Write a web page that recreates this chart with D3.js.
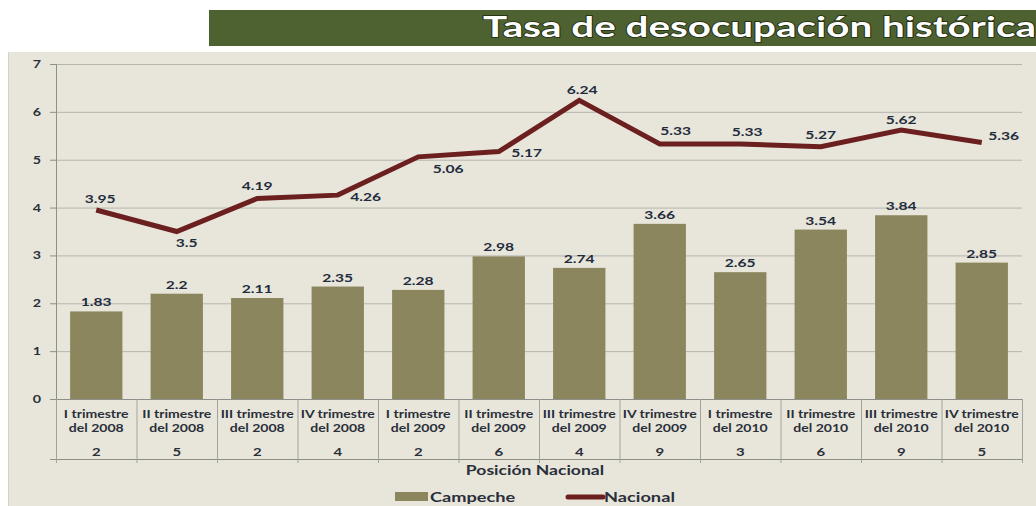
<!DOCTYPE html>
<html>
<head>
<meta charset="utf-8">
<script src="https://cdn.jsdelivr.net/npm/d3@7"></script>
<style>
  body { margin: 0; background: #ffffff; }
  text { font-family: Lato, "Open Sans", sans-serif; font-weight: 700; }
</style>
</head>
<body>
<div id="chart"></div>
<script>
const quarters = ["I trimestre|del 2008", "II trimestre|del 2008", "III trimestre|del 2008", "IV trimestre|del 2008",
    "I trimestre|del 2009", "II trimestre|del 2009", "III trimestre|del 2009", "IV trimestre|del 2009",
    "I trimestre|del 2010", "II trimestre|del 2010", "III trimestre|del 2010", "IV trimestre|del 2010"]
const campeche = [1.83, 2.2, 2.11, 2.35, 2.28, 2.98, 2.74, 3.66, 2.65, 3.54, 3.84, 2.85]
const nacional = [3.95, 3.5, 4.19, 4.26, 5.06, 5.17, 6.24, 5.33, 5.33, 5.27, 5.62, 5.36]
const posicion = [2, 5, 2, 4, 2, 6, 4, 9, 3, 6, 9, 5]
const yTicks = [0, 1, 2, 3, 4, 5, 6, 7]
// where excel left each line label, relative to the point
const lineLabelShift = [[4, -11], [10, 11], [0, -13], [28, 1], [30, 12], [28, 1],
    [3, -11], [16, -13], [7, -12], [0, -12], [0, -11], [22, -7]]

const W = 1036, H = 506
const plotLeft = 56, plotRight = 1022, plotTop = 64, plotBottom = 399
const stretch = 1.3 // the source picture is stretched sideways

// widen text horizontally to look like the stretched source
function widen(sel, k) {
    sel.each(function () {
        let len = this.getComputedTextLength()
        d3.select(this).attr("textLength", len * k).attr("lengthAdjust", "spacingAndGlyphs")
    })
}

const svg = d3.select("#chart").append("svg")
    .attr("width", W)
    .attr("height", H)

// chart area background
svg.append("rect")
    .attr("x", 8).attr("y", 52).attr("width", W - 8).attr("height", H - 52)
    .attr("fill", "#e8e6da")
svg.append("line") // thin light frame on the left
    .attr("x1", 8.5).attr("x2", 8.5).attr("y1", 52).attr("y2", H)
    .attr("stroke", "#d4d2c6")

// title band
svg.append("rect")
    .attr("x", 209).attr("y", 10).attr("width", W - 209).attr("height", 36)
    .attr("fill", "#4e6130")
svg.append("text")
    .attr("x", 483).attr("y", 37)
    .attr("textLength", 553)
    .attr("lengthAdjust", "spacingAndGlyphs")
    .attr("font-size", 29)
    .attr("fill", "#ffffff")
    .style("paint-order", "stroke")
    .attr("stroke", "#1e2a10")
    .attr("stroke-width", 1.5)
    .text("Tasa de desocupación  histórica")

let x = d3.scaleBand()
    .domain(quarters)
    .range([plotLeft, plotRight])
    .paddingInner(0.35)
    .paddingOuter(0.175)

let xEdge = d3.scaleBand() // full-width slots, for separators
    .domain(quarters)
    .range([plotLeft, plotRight])

let y = d3.scaleLinear()
    .domain([0, 7])
    .range([plotBottom, plotTop])

// gridlines
svg.append("g")
    .selectAll("line")
    .data(yTicks.slice(1))
    .enter()
    .append("line")
    .attr("x1", plotLeft).attr("x2", plotRight)
    .attr("y1", (d) => y(d) + 0.5).attr("y2", (d) => y(d) + 0.5)
    .attr("stroke", "#b5b5b0")
    .attr("stroke-width", 1)

// y axis
let yAxis = svg.append("g")
    .attr("transform", "translate(" + plotLeft + ",0)")
    .call(d3.axisLeft(y).tickValues(yTicks).tickFormat(d3.format("d")).tickSize(6).tickPadding(9))
yAxis.select(".domain").attr("stroke", "#8e8e8a")
yAxis.selectAll(".tick line").attr("stroke", "#8e8e8a")
yAxis.selectAll(".tick text")
    .attr("font-size", 11)
    .attr("fill", "#2a2f3a")
    .style("font-family", "Lato, sans-serif")
    .style("font-weight", 700)
widen(yAxis.selectAll(".tick text"), stretch)

// bars
svg.append("g")
    .selectAll("rect")
    .data(campeche)
    .enter()
    .append("rect")
    .attr("x", (d, i) => x(quarters[i]))
    .attr("y", (d) => y(d))
    .attr("width", x.bandwidth())
    .attr("height", (d) => y(0) - y(d))
    .attr("fill", "#8c865f")

let barLabels = svg.append("g")
    .selectAll("text")
    .data(campeche)
    .enter()
    .append("text")
    .attr("x", (d, i) => x(quarters[i]) + x.bandwidth() / 2)
    .attr("y", (d) => y(d) - 5)
    .attr("text-anchor", "middle")
    .attr("font-size", 12)
    .attr("fill", "#1f2b3e")
    .text((d) => d)
widen(barLabels, stretch)

// line
let lineGen = d3.line()
    .x((d, i) => xEdge(quarters[i]) + xEdge.bandwidth() / 2)
    .y((d) => y(d))

svg.append("path")
    .datum(nacional)
    .attr("d", lineGen)
    .attr("fill", "none")
    .attr("stroke", "#6b1f1f")
    .attr("stroke-width", 5)
    .attr("stroke-linejoin", "miter")

let lineLabels = svg.append("g")
    .selectAll("text")
    .data(nacional)
    .enter()
    .append("text")
    .attr("x", (d, i) => xEdge(quarters[i]) + xEdge.bandwidth() / 2 + lineLabelShift[i][0])
    .attr("y", (d, i) => y(d) + lineLabelShift[i][1] + 4.5)
    .attr("text-anchor", "middle")
    .attr("font-size", 12)
    .attr("fill", "#1f2b3e")
    .text((d) => d)
widen(lineLabels, stretch)

// x axis table: categories and national position
let xg = svg.append("g")
xg.append("line")
    .attr("x1", plotLeft - 6).attr("x2", plotRight).attr("y1", plotBottom + 0.5).attr("y2", plotBottom + 0.5)
    .attr("stroke", "#8e8e8a")
xg.append("line")
    .attr("x1", plotLeft - 6).attr("x2", plotRight).attr("y1", 459.5).attr("y2", 459.5)
    .attr("stroke", "#8e8e8a")
xg.selectAll(".sep")
    .data(quarters.concat(["end"]))
    .enter()
    .append("line")
    .attr("class", "sep")
    .attr("x1", (d, i) => (i < quarters.length ? xEdge(d) : plotRight) + 0.5)
    .attr("x2", (d, i) => (i < quarters.length ? xEdge(d) : plotRight) + 0.5)
    .attr("y1", plotBottom)
    .attr("y2", 463)
    .attr("stroke", "#a3a39e")

// two category lines as separate texts
;[0, 1].forEach((row) => {
    let t = xg.selectAll(".cat" + row)
        .data(quarters)
        .enter()
        .append("text")
        .attr("class", "cat" + row)
        .attr("x", (d) => xEdge(d) + xEdge.bandwidth() / 2)
        .attr("y", 418 + row * 14)
        .attr("text-anchor", "middle")
        .attr("font-size", 11.5)
        .attr("fill", "#2a2f3a")
        .text((d) => d.split("|")[row])
    widen(t, 1.22)
})

let pos = xg.selectAll(".pos")
    .data(posicion)
    .enter()
    .append("text")
    .attr("class", "pos")
    .attr("x", (d, i) => xEdge(quarters[i]) + xEdge.bandwidth() / 2)
    .attr("y", 456)
    .attr("text-anchor", "middle")
    .attr("font-size", 11.5)
    .attr("fill", "#2a2f3a")
    .text((d) => d)
widen(pos, stretch)

let axisTitle = svg.append("text")
    .attr("x", 535).attr("y", 475)
    .attr("text-anchor", "middle")
    .attr("font-size", 13.5)
    .attr("fill", "#2a2f3a")
    .text("Posición Nacional")
widen(axisTitle, stretch)

// legend
svg.append("rect")
    .attr("x", 395).attr("y", 492).attr("width", 33).attr("height", 9)
    .attr("fill", "#8c865f")
let leg1 = svg.append("text")
    .attr("x", 430).attr("y", 502)
    .attr("font-size", 14)
    .attr("fill", "#2a2f3a")
    .text("Campeche")
svg.append("line")
    .attr("x1", 568).attr("x2", 603).attr("y1", 497).attr("y2", 497)
    .attr("stroke", "#6b1f1f")
    .attr("stroke-width", 5)
    .attr("stroke-linecap", "round")
let leg2 = svg.append("text")
    .attr("x", 604).attr("y", 502)
    .attr("font-size", 14)
    .attr("fill", "#2a2f3a")
    .text("Nacional")
widen(leg1, stretch)
widen(leg2, stretch)
</script>
</body>
</html>
